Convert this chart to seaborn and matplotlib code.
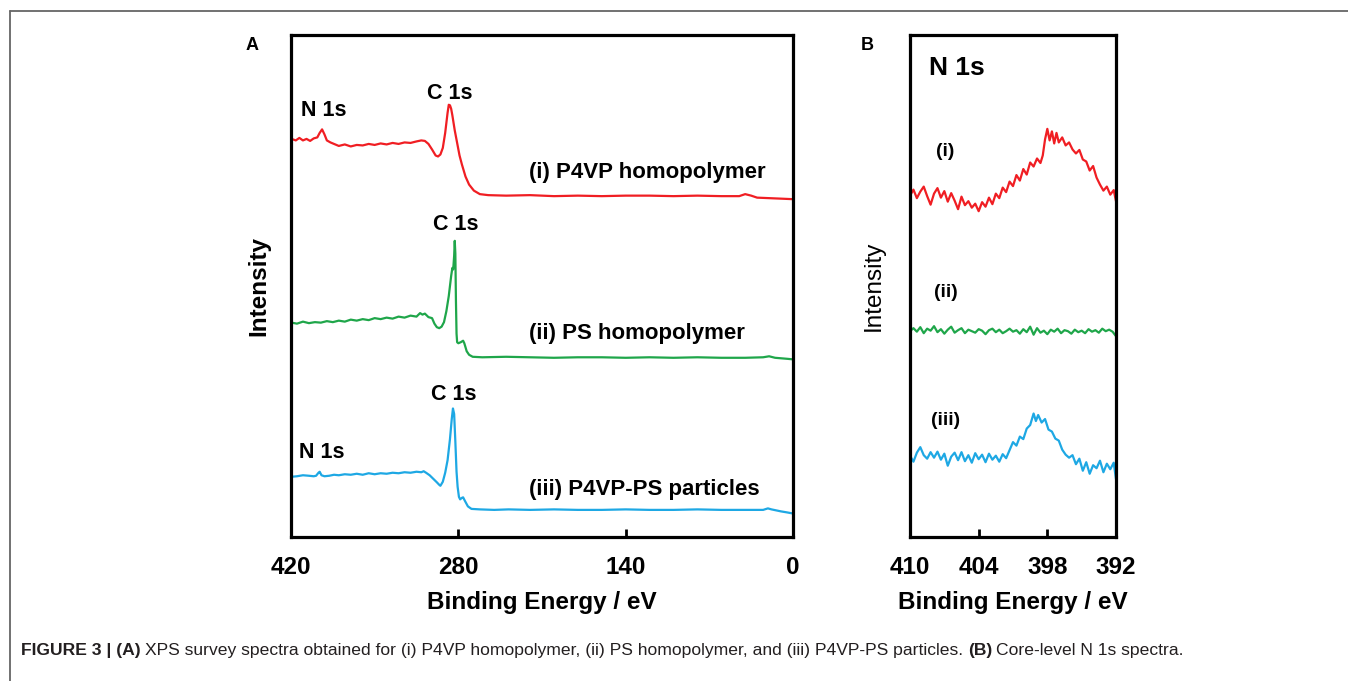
import numpy as np
import pandas as pd
import seaborn as sns
import matplotlib.pyplot as plt
from matplotlib.lines import Line2D

# ---- survey spectra (panel A), binding energy in eV, intensity in arbitrary offset units ----
survey_i_be = [419.5, 416, 413, 410, 407, 404, 401, 398, 396, 394, 392, 390, 387, 384, 380, 375, 370, 365, 360,
               355, 350, 345, 340, 335, 330, 325, 320, 315, 311, 308, 305, 302, 299, 297, 295, 293, 291, 289,
               288, 287, 286, 285, 283, 281, 279, 277, 274, 271, 267, 262, 255, 240, 220, 200, 180, 160, 140,
               120, 100, 80, 60, 45, 40, 35, 30, 20, 10, 0.5]
survey_i_int = [79.3, 79.0, 79.5, 79.0, 79.3, 78.9, 79.4, 79.6, 80.5, 81.2, 80.2, 79.0, 78.6, 78.3, 77.9, 78.2,
                77.8, 78.1, 78.0, 78.3, 78.1, 78.4, 78.2, 78.5, 78.3, 78.6, 78.5, 78.8, 79.0, 78.9, 78.3, 77.2,
                76.0, 75.8, 76.2, 77.5, 80.5, 84.5, 86.1, 86.0, 85.3, 84.0, 81.0, 78.5, 76.0, 74.2, 71.8, 70.2,
                69.0, 68.3, 68.1, 68.0, 68.1, 67.9, 68.0, 67.9, 68.0, 68.0, 67.9, 68.0, 67.9, 67.9, 68.3, 68.0,
                67.6, 67.5, 67.4, 67.3]

survey_ii_be = [419.5, 415, 410, 405, 400, 395, 390, 385, 380, 375, 370, 365, 360, 355, 350, 345, 340, 335, 330,
                325, 320, 315, 312, 310, 308, 305, 302, 300, 298, 296, 294, 292, 290, 288, 286, 285, 284.3, 283.5,
                283, 282.5, 282, 281.5, 281, 280, 278, 276, 275, 273, 271, 268, 260, 240, 220, 200, 180, 160, 140,
                120, 100, 80, 60, 40, 25, 20, 15, 10, 5, 0.5]
survey_ii_int = [42.7, 42.5, 42.9, 42.6, 42.8, 42.7, 43.0, 42.8, 43.1, 42.9, 43.3, 43.1, 43.4, 43.2, 43.6, 43.4,
                 43.7, 43.5, 43.9, 43.7, 44.1, 43.9, 44.6, 44.3, 44.5, 43.8, 43.6, 42.5, 41.8, 41.6, 41.9, 42.8,
                 45.0, 48.0, 52.0, 53.6, 53.3, 56.0, 59.0, 56.5, 47.0, 40.5, 38.8, 38.6, 38.8, 39.1, 38.6, 37.0,
                 36.3, 35.9, 35.8, 35.9, 35.8, 35.7, 35.8, 35.8, 35.7, 35.8, 35.7, 35.8, 35.7, 35.7, 35.8, 36.0,
                 35.7, 35.6, 35.5, 35.4]

survey_iii_be = [419.5, 415, 410, 405, 401, 399, 397, 396, 394.5, 392, 388, 384, 380, 375, 370, 365, 360, 355, 350,
                 345, 340, 335, 330, 325, 320, 315, 311, 309, 307, 304, 301, 298, 296, 295, 293, 291, 289, 287,
                 285.5, 284.5, 283.5, 282.5, 281.5, 280.6, 279.5, 278.5, 277, 276, 274.5, 272, 269, 262, 250, 238,
                 220, 200, 180, 160, 140, 120, 100, 80, 60, 40, 25, 21, 18, 10, 5, 0.5]
survey_iii_int = [12.0, 12.1, 12.3, 12.2, 12.1, 12.2, 12.8, 13.0, 12.3, 12.1, 12.2, 12.4, 12.3, 12.5, 12.4, 12.6,
                  12.4, 12.7, 12.5, 12.7, 12.6, 12.8, 12.7, 12.9, 12.8, 13.0, 12.9, 13.1, 12.8, 12.3, 11.6, 10.9,
                  10.4, 10.2, 11.0, 12.8, 15.3, 19.5, 23.5, 25.6, 24.5, 19.0, 13.0, 10.0, 8.0, 7.5, 7.8, 7.9, 7.2,
                  6.1, 5.6, 5.5, 5.4, 5.5, 5.4, 5.5, 5.4, 5.4, 5.5, 5.4, 5.4, 5.5, 5.4, 5.4, 5.4, 5.7, 5.5, 5.1,
                  4.9, 4.7]

# ---- N 1s core-level spectra (panel B) ----
n1s_i_be = [410.0, 409.7, 409.4, 409.1, 408.8, 408.5, 408.2, 407.9, 407.6, 407.3, 407.0, 406.7, 406.4, 406.1,
            405.8, 405.5, 405.2, 404.9, 404.6, 404.3, 404.0, 403.7, 403.4, 403.1, 402.8, 402.5, 402.2, 401.9,
            401.6, 401.3, 401.0, 400.7, 400.4, 400.1, 399.8, 399.5, 399.2, 398.9, 398.6, 398.4, 398.2, 398.0,
            397.8, 397.6, 397.4, 397.2, 397.0, 396.7, 396.4, 396.1, 395.8, 395.5, 395.2, 394.9, 394.6, 394.3,
            394.0, 393.7, 393.4, 393.1, 392.8, 392.5, 392.2, 392.0]
n1s_i_int = [68.0, 69.2, 67.5, 68.8, 69.8, 67.9, 66.2, 68.4, 69.5, 67.6, 68.9, 66.8, 68.5, 67.0, 65.3, 67.8, 66.1,
             66.9, 65.6, 66.4, 64.9, 66.7, 65.8, 67.6, 66.3, 68.4, 67.5, 69.6, 68.7, 70.8, 69.9, 72.1, 71.0, 73.3,
             72.2, 74.6, 73.8, 75.4, 74.5, 76.0, 79.2, 81.3, 79.0, 80.8, 78.4, 80.5, 78.6, 79.6, 78.0, 78.6, 77.2,
             76.4, 77.1, 75.2, 74.8, 73.0, 73.9, 71.6, 70.2, 69.0, 69.8, 68.2, 69.1, 66.9]

n1s_ii_be = [410.0, 409.7, 409.4, 409.1, 408.8, 408.5, 408.2, 407.9, 407.6, 407.3, 407.0, 406.7, 406.4, 406.1,
             405.8, 405.5, 405.2, 404.9, 404.6, 404.3, 404.0, 403.7, 403.4, 403.1, 402.8, 402.5, 402.2, 401.9,
             401.6, 401.3, 401.0, 400.7, 400.4, 400.1, 399.8, 399.5, 399.2, 398.9, 398.6, 398.3, 398.0, 397.7,
             397.4, 397.1, 396.8, 396.5, 396.2, 395.9, 395.6, 395.3, 395.0, 394.7, 394.4, 394.1, 393.8, 393.5,
             393.2, 392.9, 392.6, 392.3, 392.0]
n1s_ii_int = [41.0, 41.6, 40.9, 41.8, 40.6, 41.5, 41.1, 42.0, 40.8, 41.4, 40.5, 41.3, 41.9, 40.7, 41.2, 41.6, 40.6,
              41.3, 41.0, 40.7, 41.4, 41.1, 40.4, 41.2, 41.5, 40.8, 41.3, 40.6, 41.0, 41.5, 40.9, 41.2, 40.5, 41.4,
              40.8, 41.9, 40.3, 41.6, 40.7, 41.1, 40.4, 41.3, 40.9, 41.5, 40.6, 41.2, 41.0, 40.5, 41.3, 40.8, 41.1,
              40.6, 41.4, 40.9, 41.2, 40.7, 41.5, 41.0, 41.3, 40.9, 40.0]

n1s_iii_be = [410.0, 409.7, 409.4, 409.1, 408.8, 408.5, 408.2, 407.9, 407.6, 407.3, 407.0, 406.7, 406.4, 406.1,
              405.8, 405.5, 405.2, 404.9, 404.6, 404.3, 404.0, 403.7, 403.4, 403.1, 402.8, 402.5, 402.2, 401.9,
              401.6, 401.3, 401.0, 400.7, 400.4, 400.1, 399.8, 399.5, 399.2, 399.0, 398.8, 398.5, 398.2, 397.9,
              397.6, 397.3, 397.0, 396.7, 396.4, 396.1, 395.8, 395.5, 395.2, 394.9, 394.6, 394.3, 394.0, 393.7,
              393.4, 393.1, 392.8, 392.5, 392.2, 392.0]
n1s_iii_int = [16.2, 15.0, 16.8, 17.9, 16.3, 15.6, 16.9, 15.8, 17.0, 15.4, 16.6, 14.2, 16.0, 16.8, 15.3, 16.9,
               15.1, 16.3, 14.8, 16.7, 15.5, 16.4, 14.9, 16.6, 15.4, 16.2, 15.0, 16.5, 15.7, 17.3, 18.9, 18.2,
               20.0, 19.5, 21.6, 22.3, 24.6, 23.1, 24.3, 22.8, 23.5, 21.4, 21.0, 19.6, 19.2, 17.4, 16.4, 15.8,
               16.3, 14.5, 15.6, 13.2, 14.9, 12.6, 14.3, 13.7, 15.2, 12.9, 14.6, 13.5, 14.8, 11.5]

sample_names = ["(i)", "(ii)", "(iii)"]
sample_labels = ["(i) P4VP homopolymer", "(ii) PS homopolymer", "(iii) P4VP-PS particles"]
colors = ["#f01e23", "#1fa64a", "#1ea8e4"]

survey_ticks = [420, 280, 140, 0]
n1s_ticks = [410, 404, 398, 392]

caption_parts = [
    ("FIGURE 3 | (A)", "bold"),
    ("XPS survey spectra obtained for (i) P4VP homopolymer, (ii) PS homopolymer, and (iii) P4VP-PS particles.", "normal"),
    ("(B)", "bold"),
    ("Core-level N 1s spectra.", "normal"),
]

sns.set_style("white")
plt.rcParams["font.family"] = ["Liberation Sans", "DejaVu Sans"]
plt.rcParams["text.color"] = "black"
plt.rcParams["axes.labelcolor"] = "black"
plt.rcParams["xtick.color"] = "black"

survey_df = pd.concat([
    pd.DataFrame({"be": survey_i_be, "intensity": survey_i_int, "sample": sample_names[0]}),
    pd.DataFrame({"be": survey_ii_be, "intensity": survey_ii_int, "sample": sample_names[1]}),
    pd.DataFrame({"be": survey_iii_be, "intensity": survey_iii_int, "sample": sample_names[2]}),
])
n1s_df = pd.concat([
    pd.DataFrame({"be": n1s_i_be, "intensity": n1s_i_int, "sample": sample_names[0]}),
    pd.DataFrame({"be": n1s_ii_be, "intensity": n1s_ii_int, "sample": sample_names[1]}),
    pd.DataFrame({"be": n1s_iii_be, "intensity": n1s_iii_int, "sample": sample_names[2]}),
])
palette = dict(zip(sample_names, colors))

W, H = 1348, 681
fig = plt.figure(figsize=(W / 100, H / 100), dpi=100)
ax_a = fig.add_axes([291 / W, 1 - 537 / H, 502 / W, 502 / H])
ax_b = fig.add_axes([910 / W, 1 - 537 / H, 206 / W, 502 / H])

for ax, df in [(ax_a, survey_df), (ax_b, n1s_df)]:
    sns.lineplot(data=df, x="be", y="intensity", hue="sample", palette=palette, sort=False,
                 estimator=None, linewidth=1.6, legend=False, ax=ax)
    for sp in ax.spines.values():
        sp.set_visible(True)
        sp.set_linewidth(2.3)
        sp.set_color("black")
    ax.set_ylim(0, 100)
    ax.set_yticks([])
    ax.tick_params(axis="x", bottom=True, direction="in", length=6, width=2, pad=14,
                   labelsize=17.5, color="black", labelcolor="black")

ax_a.set_xlim(420, 0)
ax_a.set_xticks(survey_ticks)
ax_a.set_xticklabels([str(t) for t in survey_ticks], fontweight="bold", fontsize=17.5)
ax_b.set_xlim(410, 392)
ax_b.set_xticks(n1s_ticks)
ax_b.set_xticklabels([str(t) for t in n1s_ticks], fontweight="bold", fontsize=17.5)

for ax in (ax_a, ax_b):
    ax.set_xlabel("Binding Energy / eV", fontsize=17.5, fontweight="bold")
    ax.xaxis.set_label_coords(0.5, -0.107)
ax_a.set_ylabel("Intensity", fontsize=17.5, fontweight="bold")
ax_a.yaxis.set_label_coords(-0.042, 0.5)
ax_b.set_ylabel("Intensity", fontsize=17.5)
ax_b.yaxis.set_label_coords(-0.121, 0.5)

# peak annotations, panel A
ann = dict(fontsize=15.5, fontweight="bold", ha="center", va="center")
ax_a.text(393, 84.9, "N 1s", **ann)
ax_a.text(287, 88.4, "C 1s", **ann)
ax_a.text(282, 62.2, "C 1s", **ann)
ax_a.text(284, 28.3, "C 1s", **ann)
ax_a.text(394, 16.9, "N 1s", **ann)
for y, lab in zip([72.7, 40.6, 9.4], sample_labels):
    ax_a.text(221, y, lab, fontsize=16, fontweight="bold", ha="left", va="center")

# panel B labels
ax_b.text(405.9, 93.4, "N 1s", fontsize=19, fontweight="bold", ha="center", va="center")
for y, lab in zip([76.7, 48.7, 23.2], sample_names):
    ax_b.text(406.9, y, lab, fontsize=14, fontweight="bold", ha="center", va="center")

fig.text(252 / W, 1 - 45 / H, "A", fontsize=13, fontweight="bold", ha="center", va="center")
fig.text(867 / W, 1 - 45 / H, "B", fontsize=13, fontweight="bold", ha="center", va="center")

# page frame (open on the right and bottom, as cropped)
fig.add_artist(Line2D([10 / W, 1], [1 - 10.5 / H, 1 - 10.5 / H], color="#666666", lw=1.3))
fig.add_artist(Line2D([10 / W, 10 / W], [1 - 10.5 / H, 0], color="#666666", lw=1.3))

# caption with mixed weights
fig.canvas.draw()
renderer = fig.canvas.get_renderer()
x_px = 21
gap = 4.5
for txt, wt in caption_parts:
    t = fig.text(x_px / W, 1 - 651 / H, txt, fontsize=12.6, fontweight=wt, ha="left", va="center",
                 color="#231f20")
    bb = t.get_window_extent(renderer)
    x_px = bb.x1 + gap

fig.savefig("out.png", dpi=100)
